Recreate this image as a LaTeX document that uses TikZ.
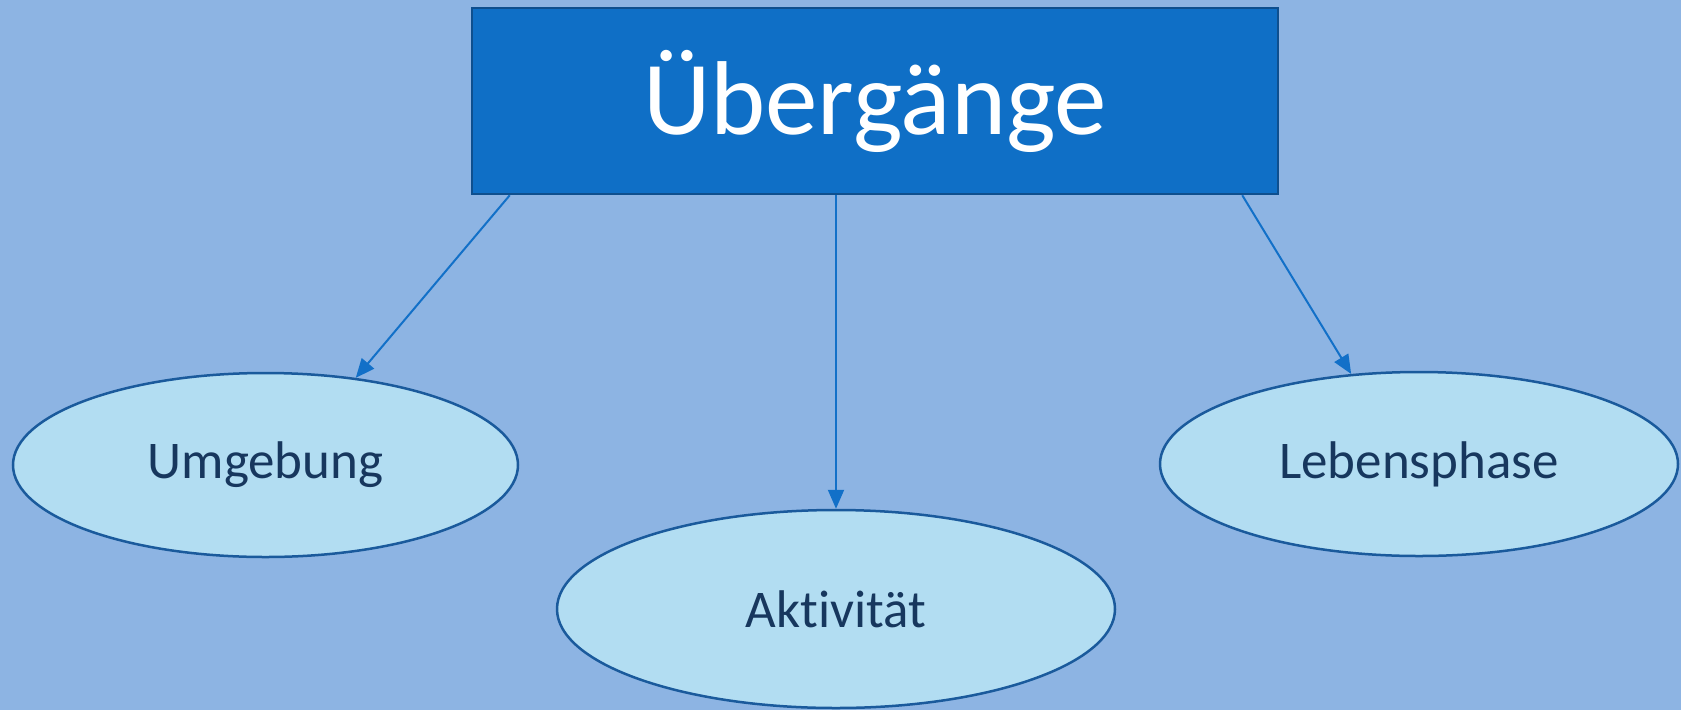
\documentclass[tikz,border=0pt]{standalone}
\usepackage{fontspec}
\setmainfont[Ligatures=NoCommon]{Carlito}
\usetikzlibrary{shapes.geometric,arrows.meta}
\definecolor{bgblue}{HTML}{8DB4E3}
\definecolor{boxblue}{HTML}{0F6FC6}
\definecolor{boxline}{HTML}{0E4F8E}
\definecolor{ellfill}{HTML}{B2DDF2}
\definecolor{ellline}{HTML}{1A5A9C}
\definecolor{textnavy}{HTML}{17375E}
\definecolor{arrowblue}{HTML}{1270C8}

\begin{document}
\begin{tikzpicture}[x=1pt,y=-1pt,
    topic/.style={draw=boxline,line width=2.5pt,fill=boxblue,text=white,
      minimum width=806pt,minimum height=186pt,inner sep=0pt,
      font=\fontsize{105}{110}\selectfont},
    area/.style={ellipse,draw=ellline,line width=2.5pt,fill=ellfill,text=textnavy,
      inner sep=0pt,font=\fontsize{53}{58}\selectfont},
    link/.style={color=arrowblue,line width=2pt,-{Triangle[length=19pt,width=16pt]}}]
  \useasboundingbox (0,0) rectangle (1681,710);
  \fill[bgblue] (0,0) rectangle (1681,710);
  \node[topic] (ueb) at (875,101) {Übergänge};
  \node[area,minimum width=505pt,minimum height=184pt] (umg) at (265.5,465) {Umgebung};
  \node[area,minimum width=558pt,minimum height=198pt] (akt) at (836,609) {Aktivität};
  \node[area,minimum width=518pt,minimum height=184pt] (leb) at (1419,464) {Lebensphase};
  \coordinate (s1) at ([xshift=39pt]ueb.south west);
  \coordinate (s2) at (ueb.south -| akt.north);
  \coordinate (s3) at ([xshift=-37pt]ueb.south east);
  \path[link]
    (s1) edge (umg.44)
    (s2) edge (akt.north)
    (s3) edge (leb.127);
\end{tikzpicture}
\end{document}
